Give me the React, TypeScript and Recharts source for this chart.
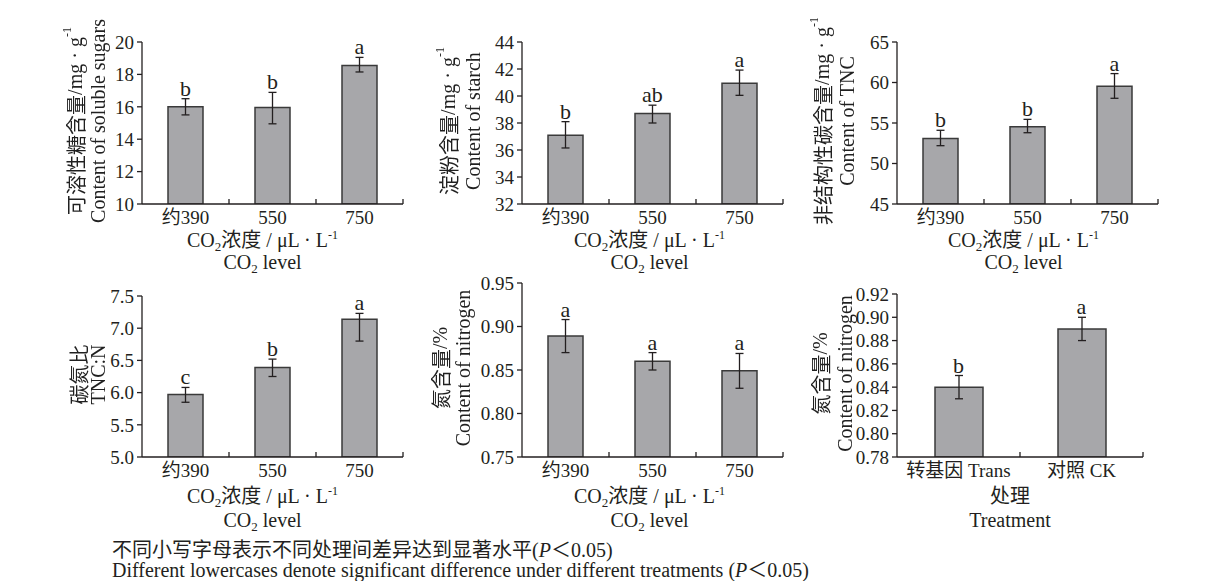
import React from 'react';
import { BarChart, Bar, XAxis, YAxis, ErrorBar, ReferenceDot } from 'recharts';

const FONT = '"Liberation Serif", "Times New Roman", "Noto Sans CJK SC", serif';
const CJK = '"Noto Sans CJK JP", "Noto Sans CJK SC", sans-serif';
const INK = '#231f20';
const BAR_FILL = '#a7a7aa';
const BAR_EDGE = '#3a3a3a';

const co2Levels = ['约390', '550', '750'];
const treatments = ['转基因 Trans', '对照 CK'];

const sugarMean = [16.0, 15.95, 18.55];
const sugarErr = [[0.5, 0.5], [1.0, 0.94], [0.4, 0.5]];
const sugarSig = ['b', 'b', 'a'];
const sugarTicks = [10, 12, 14, 16, 18, 20];

const starchMean = [37.1, 38.7, 40.95];
const starchErr = [[0.95, 1.0], [0.7, 0.62], [0.9, 0.97]];
const starchSig = ['b', 'ab', 'a'];
const starchTicks = [32, 34, 36, 38, 40, 42, 44];

const tncMean = [53.1, 54.55, 59.55];
const tncErr = [[0.9, 1.0], [0.75, 0.9], [1.5, 1.55]];
const tncSig = ['b', 'b', 'a'];
const tncTicks = [45, 50, 55, 60, 65];

const ratioMean = [5.97, 6.39, 7.14];
const ratioErr = [[0.12, 0.11], [0.14, 0.13], [0.34, 0.09]];
const ratioSig = ['c', 'b', 'a'];
const ratioTicks = [5.0, 5.5, 6.0, 6.5, 7.0, 7.5];

const nitroMean = [0.889, 0.86, 0.849];
const nitroErr = [[0.019, 0.019], [0.01, 0.01], [0.02, 0.02]];
const nitroSig = ['a', 'a', 'a'];
const nitroTicks = [0.75, 0.8, 0.85, 0.9, 0.95];

const transMean = [0.84, 0.89];
const transErr = [[0.01, 0.01], [0.01, 0.01]];
const transSig = ['b', 'a'];
const transTicks = [0.78, 0.8, 0.82, 0.84, 0.86, 0.88, 0.9, 0.92];

const Y_W = 110;
const M_TOP = 24;
const M_RIGHT = 12;
const X_H = 80;
const TICK_FS = 19;
const TITLE_FS = 20;

const Sup = () => (
  <tspan dy={-8} fontSize={12}>-1</tspan>
);
const Han = ({ children }: { children: React.ReactNode }) => (
  <tspan fontFamily={CJK}>{children}</tspan>
);

const co2Title = (
  <>
    CO<tspan dy={4} fontSize={13}>2</tspan>
    <tspan dy={-4} fontFamily={CJK}>浓度</tspan>
    <tspan> / μL · L</tspan>
    <Sup />
  </>
);
const co2Level = (
  <>
    CO<tspan dy={4} fontSize={13}>2</tspan>
    <tspan dy={-4}> level</tspan>
  </>
);

type Box = { left: number; top: number; right: number; bottom: number };

type PanelProps = {
  cats: string[];
  mean: number[];
  err: number[][];
  sig: string[];
  ticks: number[];
  digits: number;
  box: Box;
  barSize: number;
  yLines: React.ReactNode[];
  yPos: number[];
  xLines: React.ReactNode[];
  xDx: number;
  xBase: number[];
};

function Panel({ cats, mean, err, sig, ticks, digits, box, barSize, yLines, yPos, xLines, xDx, xBase }: PanelProps) {
  const plotW = box.right - box.left;
  const plotH = box.bottom - box.top;
  const width = plotW + Y_W + M_RIGHT;
  const height = M_TOP + plotH + X_H;
  const band = plotW / cats.length;
  const axisY = M_TOP + plotH;
  const data = cats.map((name, i) => ({ name, value: mean[i], err: err[i] }));
  const cy = M_TOP + plotH / 2 - 2;

  const CatTick = (p: any) => (
    <g>
      <text x={p.x} y={axisY + 20} textAnchor="middle" fill={INK} fontSize={TICK_FS} fontFamily={FONT}>
        {p.payload.value}
      </text>
      <line x1={p.x + band / 2} x2={p.x + band / 2} y1={axisY} y2={axisY - 5} stroke={INK} strokeWidth={1.3} />
    </g>
  );

  // the rotated CJK glyphs come out with colour fringes, so render them grey only
  const YTitle = () => (
    <g fill={INK} fontSize={TITLE_FS} fontFamily={FONT} style={{ filter: 'grayscale(1)' }}>
      {yLines.map((ln, i) => {
        const x = Y_W - yPos[i];
        return (
          <text key={i} x={x} y={cy} transform={`rotate(-90 ${x} ${cy})`} textAnchor="middle" dominantBaseline="central">
            {ln}
          </text>
        );
      })}
    </g>
  );

  const XTitle = () => (
    <g fill={INK} fontSize={TITLE_FS} fontFamily={FONT}>
      {xLines.map((ln, i) => (
        <text key={i} x={Y_W + plotW / 2 + xDx} y={axisY + xBase[i]} textAnchor="middle">
          {ln}
        </text>
      ))}
    </g>
  );

  return (
    <div style={{ position: 'absolute', left: box.left - Y_W, top: box.top - M_TOP }}>
      <BarChart width={width} height={height} data={data} margin={{ top: M_TOP, right: M_RIGHT, bottom: 0, left: 0 }}>
        <XAxis
          dataKey="name"
          interval={0}
          height={X_H}
          tickLine={false}
          axisLine={{ stroke: INK, strokeWidth: 1.3 }}
          tick={CatTick}
          label={XTitle}
        />
        <YAxis
          type="number"
          width={Y_W}
          domain={[ticks[0], ticks[ticks.length - 1]]}
          ticks={ticks}
          interval={0}
          allowDataOverflow
          tickSize={5}
          tickMargin={3}
          tickFormatter={(v: number) => v.toFixed(digits)}
          tick={{ fill: INK, fontSize: TICK_FS, fontFamily: FONT }}
          tickLine={{ stroke: INK, strokeWidth: 1.3 }}
          axisLine={{ stroke: INK, strokeWidth: 1.3 }}
          label={YTitle}
        />
        <Bar dataKey="value" barSize={barSize} fill={BAR_FILL} stroke={BAR_EDGE} strokeWidth={1.5} isAnimationActive={false}>
          <ErrorBar dataKey="err" width={4} stroke={INK} strokeWidth={1.3} direction="y" isAnimationActive={false} />
        </Bar>
        {data.map((d, i) => (
          <ReferenceDot
            key={d.name}
            x={d.name}
            y={d.value + d.err[1]}
            r={0}
            fill="none"
            stroke="none"
            ifOverflow="visible"
            label={{ value: sig[i], position: 'top', offset: 3, fill: INK, fontSize: 22, fontFamily: FONT }}
          />
        ))}
      </BarChart>
    </div>
  );
}

export default function App() {
  return (
    <div style={{ position: 'absolute', left: 0, top: 0, width: 1211, height: 581, background: '#fff', overflow: 'hidden', fontFamily: FONT, color: INK }}>
      <Panel
        cats={co2Levels} mean={sugarMean} err={sugarErr} sig={sugarSig} ticks={sugarTicks} digits={0}
        box={{ left: 142, top: 42, right: 403, bottom: 204 }} barSize={35}
        yLines={[<><Han>可溶性糖含量</Han>/mg · g<Sup /></>, 'Content of soluble sugars']} yPos={[67, 44]}
        xLines={[co2Title, co2Level]} xDx={-10} xBase={[43, 65]}
      />
      <Panel
        cats={co2Levels} mean={starchMean} err={starchErr} sig={starchSig} ticks={starchTicks} digits={0}
        box={{ left: 522, top: 42, right: 783, bottom: 204 }} barSize={35}
        yLines={[<><Han>淀粉含量</Han>/mg · g<Sup /></>, 'Content of starch']} yPos={[74, 49]}
        xLines={[co2Title, co2Level]} xDx={-3} xBase={[43, 65]}
      />
      <Panel
        cats={co2Levels} mean={tncMean} err={tncErr} sig={tncSig} ticks={tncTicks} digits={0}
        box={{ left: 897, top: 42, right: 1158, bottom: 204 }} barSize={35}
        yLines={[<><Han>非结构性碳含量</Han>/mg · g<Sup /></>, 'Content of TNC']} yPos={[75, 50]}
        xLines={[co2Title, co2Level]} xDx={-4} xBase={[43, 65]}
      />
      <Panel
        cats={co2Levels} mean={ratioMean} err={ratioErr} sig={ratioSig} ticks={ratioTicks} digits={1}
        box={{ left: 142, top: 296, right: 403, bottom: 457 }} barSize={35}
        yLines={[<Han>碳氮比</Han>, 'TNC:N']} yPos={[64, 44]}
        xLines={[co2Title, co2Level]} xDx={-10} xBase={[46, 70]}
      />
      <Panel
        cats={co2Levels} mean={nitroMean} err={nitroErr} sig={nitroSig} ticks={nitroTicks} digits={2}
        box={{ left: 522, top: 283, right: 783, bottom: 457 }} barSize={35}
        yLines={[<><Han>氮含量</Han>/%</>, 'Content of nitrogen']} yPos={[82, 59]}
        xLines={[co2Title, co2Level]} xDx={-3} xBase={[46, 70]}
      />
      <Panel
        cats={treatments} mean={transMean} err={transErr} sig={transSig} ticks={transTicks} digits={2}
        box={{ left: 897, top: 294, right: 1143, bottom: 457 }} barSize={48}
        yLines={[<><Han>氮含量</Han>/%</>, 'Content of nitrogen']} yPos={[77, 52]}
        xLines={[<Han>处理</Han>, 'Treatment']} xDx={-10} xBase={[46, 70]}
      />
      <div style={{ position: 'absolute', left: 112, top: 540, fontSize: 20, lineHeight: '21px', whiteSpace: 'nowrap' }}>
        不同小写字母表示不同处理间差异达到显著水平(<i>P</i>＜0.05)
      </div>
      <div style={{ position: 'absolute', left: 112, top: 560, fontSize: 20, lineHeight: '21px', whiteSpace: 'nowrap' }}>
        Different lowercases denote significant difference under different treatments (<i>P</i>＜0.05)
      </div>
    </div>
  );
}
